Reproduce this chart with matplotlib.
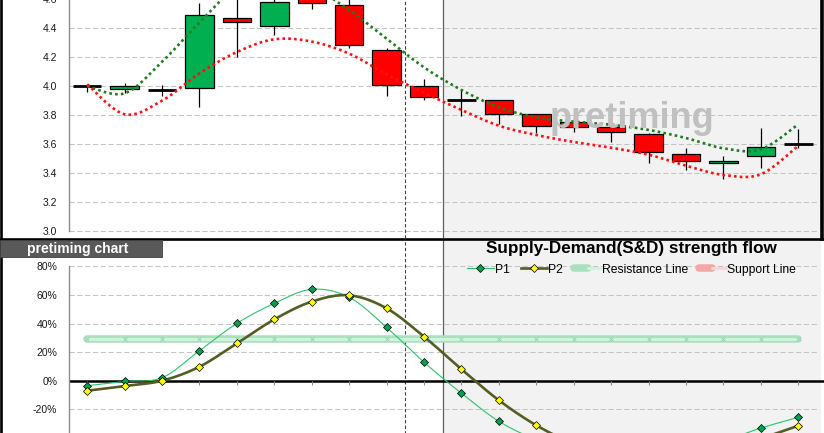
import numpy as np
import matplotlib
matplotlib.use("Agg")
import matplotlib.pyplot as plt
from matplotlib.lines import Line2D
from matplotlib.patches import Rectangle
from matplotlib.legend_handler import HandlerTuple

plt.rcParams['font.family'] = ['Liberation Sans', 'DejaVu Sans']

# ---------------- data ----------------
days = list(range(1, 21))
opens  = [4.000, 3.980, 3.976, 3.990, 4.469, 4.416, 4.640, 4.559, 4.248, 3.999,
          3.902, 3.902, 3.806, 3.751, 3.716, 3.668, 3.530, 3.467, 3.516, 3.603]
highs  = [4.000, 4.020, 4.006, 4.573, 4.650, 4.660, 4.680, 4.620, 4.262, 4.048,
          3.974, 3.902, 3.806, 3.778, 3.758, 3.679, 3.571, 3.516, 3.711, 3.704]
lows   = [3.957, 3.955, 3.935, 3.858, 4.204, 4.356, 4.530, 4.262, 3.935, 3.907,
          3.796, 3.739, 3.675, 3.686, 3.617, 3.472, 3.421, 3.361, 3.437, 3.571]
closes = [4.000, 4.000, 3.976, 4.490, 4.441, 4.579, 4.572, 4.282, 4.006, 3.928,
          3.902, 3.806, 3.723, 3.716, 3.686, 3.548, 3.481, 3.481, 3.580, 3.603]
upper_band = [4.000, 3.951, 4.169, 4.440, 4.685, 4.760, 4.686, 4.526, 4.328, 4.130,
              3.974, 3.854, 3.785, 3.755, 3.734, 3.698, 3.642, 3.571, 3.564, 3.737]
lower_band = [4.013, 3.806, 3.900, 4.089, 4.236, 4.324, 4.308, 4.225, 4.082, 3.955,
              3.836, 3.727, 3.663, 3.615, 3.575, 3.527, 3.451, 3.387, 3.392, 3.589]

p1 = [-3.5, -0.5, 2.1, 21.0, 40.1, 54.1, 63.9, 58.3, 37.3, 12.9,
      -8.8, -28.4, -41.0, -47.0, -50.0, -50.0, -47.0, -42.0, -33.1, -25.6]
p2 = [-7.0, -3.7, 0.0, 9.8, 26.1, 42.9, 55.3, 59.7, 50.6, 30.8,
      8.0, -13.7, -31.2, -44.0, -52.0, -55.0, -54.0, -50.0, -40.6, -31.5]
resistance = [29.2] * 20
support = [-45.0] * 20

price_ticks = [3.0, 3.2, 3.4, 3.6, 3.8, 4.0, 4.2, 4.4, 4.6]
pct_ticks = [-20, 0, 20, 40, 60, 80]
pct_grid = [-60, -40, -20, 20, 40, 60, 80]

title = "Supply-Demand(S&D) strength flow"
label_box = "pretiming chart"
watermark = "pretiming"

# ---------------- helpers ----------------
W, H = 824, 433


def smooth(x, y, n=24):
    """Excel-like smoothed line rendering (cubic Bezier through points)."""
    P = np.column_stack([np.asarray(x, float), np.asarray(y, float)])
    E = np.vstack([P[0], P, P[-1]])
    t = np.linspace(0, 1, n, endpoint=False)[:, None]
    segs = []
    for i in range(len(P) - 1):
        p0, p1_, p2_, p3 = E[i], E[i + 1], E[i + 2], E[i + 3]
        c1 = p1_ + (p2_ - p0) / 6
        c2 = p2_ - (p3 - p1_) / 6
        segs.append((1 - t) ** 3 * p1_ + 3 * (1 - t) ** 2 * t * c1
                    + 3 * (1 - t) * t ** 2 * c2 + t ** 3 * p2_)
    segs.append(P[-1:])
    S = np.vstack(segs)
    return S[:, 0], S[:, 1]


def fx(px):
    return px / W


def fy(py):
    return (H - py) / H


fig = plt.figure(figsize=(W / 100, H / 100), dpi=100)
fig.patch.set_facecolor('white')

x_left, x_right = 68.5, 817.0
grid_kw = dict(color='#c4c4c4', lw=0.75, linestyle=(0, (5, 2.5)))
tick_color = '#1a1a1a'

# ---------------- top panel ----------------
top_bottom_px, top_top_px = 237.7, -29.6
ax1 = fig.add_axes([fx(x_left), fy(top_bottom_px), (x_right - x_left) / W,
                    (top_bottom_px - top_top_px) / H])
ax1.set_xlim(0.5, 20.5)
ax1.set_ylim(3.0 - (top_bottom_px - 231) / 144.8, 3.0 + (231 - top_top_px) / 144.8)
ax1.set_facecolor('white')
for s in ['top', 'right', 'bottom']:
    ax1.spines[s].set_visible(False)
ax1.spines['left'].set_color('#8c8c8c')
ax1.spines['left'].set_linewidth(1.0)
ax1.spines['left'].set_bounds(3.0, 4.8)
ax1.set_yticks(price_ticks)
ax1.set_yticklabels([f"{v:.1f}" for v in price_ticks])
ax1.set_xticks([])
ax1.tick_params(axis='y', length=0, pad=8, labelsize=7.5, labelcolor=tick_color)
for v in price_ticks:
    ax1.axhline(v, zorder=0.5, **grid_kw)

ax1.axvspan(10.5, 20.6, color='#f2f2f2', zorder=0.2, lw=0, clip_on=False)
ax1.axvline(9.5, color='#404040', lw=0.8, linestyle=(0, (3, 2)), zorder=1)
ax1.axvline(10.5, color='#5f5f5f', lw=0.9, zorder=1)

fig.text(fx(632.5), fy(128.3), watermark, fontsize=26, fontweight='bold',
         color='#c0c0c0', ha='center', va='baseline', zorder=1.2)

body_w = 0.76
for d, o, h, l, c in zip(days, opens, highs, lows, closes):
    ax1.vlines(d, l, h, color='black', lw=0.9, zorder=2)
    if abs(c - o) < 1e-9:
        ax1.hlines(o, d - body_w / 2, d + body_w / 2, color='black', lw=2.0, zorder=3)
    else:
        col = '#00b050' if c > o else '#ff0000'
        ax1.bar(d, c - o, bottom=o, width=body_w, color=col, edgecolor='black',
                lw=0.9, zorder=3)

ux, uy = smooth(days, upper_band)
lx, ly = smooth(days, lower_band)
ax1.plot(ux, uy, color='#1e7b1e', lw=1.9, linestyle=(0, (1, 1.2)),
         dash_capstyle='butt', zorder=4)
ax1.plot(lx, ly, color='#ff1010', lw=1.9, linestyle=(0, (1, 1.2)),
         dash_capstyle='butt', zorder=4)

# ---------------- bottom panel ----------------
bot_top_px, bot_bottom_px = 239.5, 466.5
zero_px, px_per_pct = 380.7, 1.43
ax2 = fig.add_axes([fx(x_left), fy(bot_bottom_px), (x_right - x_left) / W,
                    (bot_bottom_px - bot_top_px) / H])
ax2.set_xlim(0.5, 20.5)
ax2.set_ylim(-(bot_bottom_px - zero_px) / px_per_pct, (zero_px - bot_top_px) / px_per_pct)
ax2.set_facecolor('white')
for s in ['top', 'right', 'bottom']:
    ax2.spines[s].set_visible(False)
ax2.spines['left'].set_color('#8c8c8c')
ax2.spines['left'].set_linewidth(1.0)
ax2.spines['left'].set_bounds(-60, 80)
ax2.set_yticks(pct_ticks)
ax2.set_yticklabels([f"{v}%" for v in pct_ticks])
ax2.set_xticks([])
ax2.tick_params(axis='y', length=0, pad=8, labelsize=7.5, labelcolor=tick_color)
for v in pct_grid:
    ax2.axhline(v, zorder=0.5, **grid_kw)

ax2.axvspan(10.5, 20.6, color='#f2f2f2', zorder=0.2, lw=0, clip_on=False)
ax2.axvline(9.5, color='#404040', lw=0.8, linestyle=(0, (3, 2)), zorder=1)
ax2.axvline(10.5, color='#5f5f5f', lw=0.9, zorder=1)

ax2.plot([0.5, 20.7], [0, 0], color='black', lw=1.8, zorder=2, clip_on=False,
         solid_capstyle='butt')
ax2.plot(days, [0] * len(days), ls='none', marker=3, ms=3, color='#8c8c8c',
         mew=0.8, zorder=2)

# resistance / support bands
for vals, outer, inner, mk in [(resistance, '#a9e0be', '#d3f1de', '#8fd3a9'),
                               (support, '#f4a7a7', '#fbd5d5', '#ee8c8c')]:
    ax2.plot(days, vals, color=outer, lw=5.4, solid_capstyle='round', zorder=2.5)
    ax2.plot(days, vals, color=inner, lw=2.2, solid_capstyle='round', zorder=2.6)
    ax2.plot(days, vals, ls='none', marker='x', ms=2.2, mew=0.6, color=mk, zorder=2.7)

sx1, sy1 = smooth(days, p1)
sx2, sy2 = smooth(days, p2)
ax2.plot(sx1, sy1, color='#2cc36b', lw=0.8, zorder=3)
ax2.plot(days, p1, ls='none', marker='D', ms=4.2, mfc='#00a050', mec='black',
         mew=0.5, zorder=4)
ax2.plot(sx2, sy2, color='#555d25', lw=1.9, zorder=3.2)
ax2.plot(days, p2, ls='none', marker='D', ms=4.2, mfc='#ffff00', mec='black',
         mew=0.5, zorder=4.2)

# ---------------- frame, labels ----------------
fig.add_artist(Line2D([fx(1.2), fx(1.2)], [0, 1], color='black', lw=1.9))
fig.add_artist(Line2D([fx(822.3), fx(822.3)], [fy(239), 1], color='black', lw=2.6))
fig.add_artist(Line2D([0, 1], [fy(238.6), fy(238.6)], color='black', lw=1.9))

fig.add_artist(Rectangle((0, fy(257.3)), fx(162), fy(240) - fy(257.3),
                         transform=fig.transFigure, facecolor='#595959',
                         edgecolor='#404040', lw=0.6, zorder=5))
fig.text(fx(78), fy(248.6), label_box, color='white', fontsize=10, fontweight='bold',
         ha='center', va='center', zorder=6)

fig.text(fx(631.7), fy(248.3), title, fontsize=12.3, fontweight='bold',
         ha='center', va='center', color='black')

h_p1 = Line2D([], [], color='#2cc36b', lw=0.8, marker='D', ms=4, mfc='#00a050',
              mec='black', mew=0.5)
h_p2 = Line2D([], [], color='#555d25', lw=1.9, marker='D', ms=4, mfc='#ffff00',
              mec='black', mew=0.5)
h_res = (Line2D([], [], color='#a9e0be', lw=5.4, solid_capstyle='round'),
         Line2D([], [], color='#d3f1de', lw=2.2, solid_capstyle='round'))
h_sup = (Line2D([], [], color='#f4a7a7', lw=5.4, solid_capstyle='round'),
         Line2D([], [], color='#fbd5d5', lw=2.2, solid_capstyle='round'))
fig.legend([h_p1, h_p2, h_res, h_sup], ['P1', 'P2', 'Resistance Line', 'Support Line'],
           handler_map={tuple: HandlerTuple(ndivide=None)},
           loc='center', bbox_to_anchor=(fx(631.5), fy(269.7)), ncol=4, frameon=False,
           fontsize=8.7, handlelength=2.2, handletextpad=0.1, columnspacing=0.9,
           borderpad=0, borderaxespad=0)

fig.savefig('out.png', dpi=100, facecolor='white')
